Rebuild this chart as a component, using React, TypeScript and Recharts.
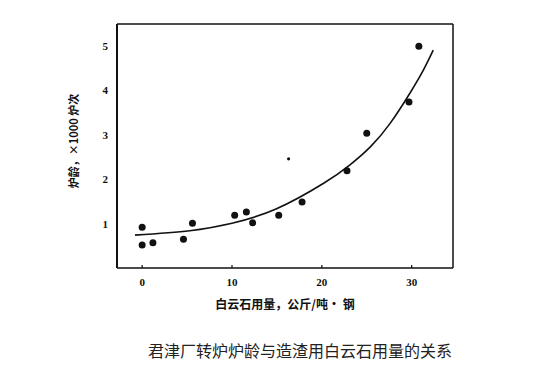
import React from "react";
import {
  ComposedChart,
  Line,
  Scatter,
  XAxis,
  YAxis,
  ReferenceLine,
} from "recharts";

// 白云石用量 (kg/t) vs 炉龄 (x1000 heats)
const dolomiteUse = [0, 0, 1.2, 4.6, 5.6, 10.3, 11.6, 12.3, 15.2, 17.8, 22.8, 25.0, 29.7, 30.8];
const liningLife = [0.92, 0.52, 0.57, 0.65, 1.01, 1.19, 1.26, 1.02, 1.19, 1.49, 2.19, 3.04, 3.74, 5.0];

// the one small dot
const smallX = [16.3];
const smallY = [2.46];

// fitted curve
const curveX = [-0.8, 5.3, 10, 14.9, 20.2, 23.1, 25.4, 27.6, 29.8, 31.3, 32.4];
const curveY = [0.74, 0.84, 1.01, 1.33, 1.91, 2.32, 2.73, 3.26, 3.94, 4.46, 4.91];

const xTicks = [0, 10, 20, 30];
const yTicks = [1, 2, 3, 4, 5];
const xDomain: [number, number] = [-2.8, 34.6];
const yDomain: [number, number] = [0, 5.5];
const tickMarkLen = 0.07; // in y units, ~3px

const xLabel = "白云石用量，公斤/吨• 钢";
const yLabel = "炉龄，×1000 炉次";
const caption = "君津厂转炉炉龄与造渣用白云石用量的关系";

const points = dolomiteUse.map((x, i) => ({ x, y: liningLife[i] }));
const smallPoints = smallX.map((x, i) => ({ x, y: smallY[i] }));
const curve = curveX.map((x, i) => ({ x, y: curveY[i] }));

const tickFont = {
  fontFamily: "'Liberation Serif', serif",
  fontSize: 11,
  fontWeight: 700,
  fill: "#111",
};

const cjk = "'Noto Sans CJK SC', sans-serif";

export default function App(): React.ReactElement {
  return (
    <div style={{ position: "absolute", left: 0, top: 0, width: 533, height: 374, background: "#fff" }}>
      <ComposedChart
        width={533}
        height={374}
        data={curve}
        margin={{ top: 24, right: 80, left: 77, bottom: 76 }}
      >
        <XAxis
          xAxisId="main"
          type="number"
          dataKey="x"
          domain={xDomain}
          ticks={xTicks}
          allowDataOverflow
          height={30}
          stroke="#111"
          strokeWidth={1.5}
          tickLine={false}
          tickSize={0}
          tickMargin={10}
          tick={tickFont}
        />
        <YAxis
          yAxisId="main"
          type="number"
          dataKey="y"
          domain={yDomain}
          ticks={yTicks}
          allowDataOverflow
          width={40}
          stroke="#111"
          strokeWidth={2}
          tickLine={false}
          tickSize={0}
          tickMargin={9}
          tick={tickFont}
        />
        <ReferenceLine xAxisId="main" yAxisId="main" y={yDomain[1]} stroke="#111" strokeWidth={1.5} />
        <ReferenceLine xAxisId="main" yAxisId="main" x={xDomain[1]} stroke="#111" strokeWidth={1.5} />
        {/* small upward tick marks on the bottom axis */}
        {xTicks.map((t) => (
          <ReferenceLine
            key={t}
            xAxisId="main"
            yAxisId="main"
            segment={[
              { x: t, y: 0 },
              { x: t, y: tickMarkLen },
            ]}
            stroke="#111"
            strokeWidth={1.2}
          />
        ))}
        <Line
          xAxisId="main"
          yAxisId="main"
          type="natural"
          dataKey="y"
          stroke="#111"
          strokeWidth={1.6}
          dot={false}
          isAnimationActive={false}
        />
        <Scatter
          xAxisId="main"
          yAxisId="main"
          data={points}
          dataKey="y"
          fill="#111"
          shape={(p: any) => <circle cx={p.cx} cy={p.cy} r={3.5} fill="#111" />}
          isAnimationActive={false}
        />
        <Scatter
          xAxisId="main"
          yAxisId="main"
          data={smallPoints}
          dataKey="y"
          fill="#111"
          shape={(p: any) => <circle cx={p.cx} cy={p.cy} r={1.6} fill="#111" />}
          isAnimationActive={false}
        />
      </ComposedChart>
      <svg
        width={533}
        height={374}
        style={{ position: "absolute", left: 0, top: 0, pointerEvents: "none" }}
      >
        <text
          x={285}
          y={303}
          textAnchor="middle"
          dominantBaseline="central"
          fontFamily={cjk}
          fontWeight={700}
          fontSize={12}
          fill="#111"
        >
          {xLabel}
        </text>
        <text
          x={73}
          y={141}
          transform="rotate(-90 73 141)"
          textAnchor="middle"
          dominantBaseline="central"
          fontFamily={cjk}
          fontWeight={700}
          fontSize={11}
          fill="#111"
        >
          {yLabel}
        </text>
        <text
          x={300}
          y={350}
          textAnchor="middle"
          dominantBaseline="central"
          fontFamily={cjk}
          fontSize={16}
          fill="#222"
        >
          {caption}
        </text>
      </svg>
    </div>
  );
}
